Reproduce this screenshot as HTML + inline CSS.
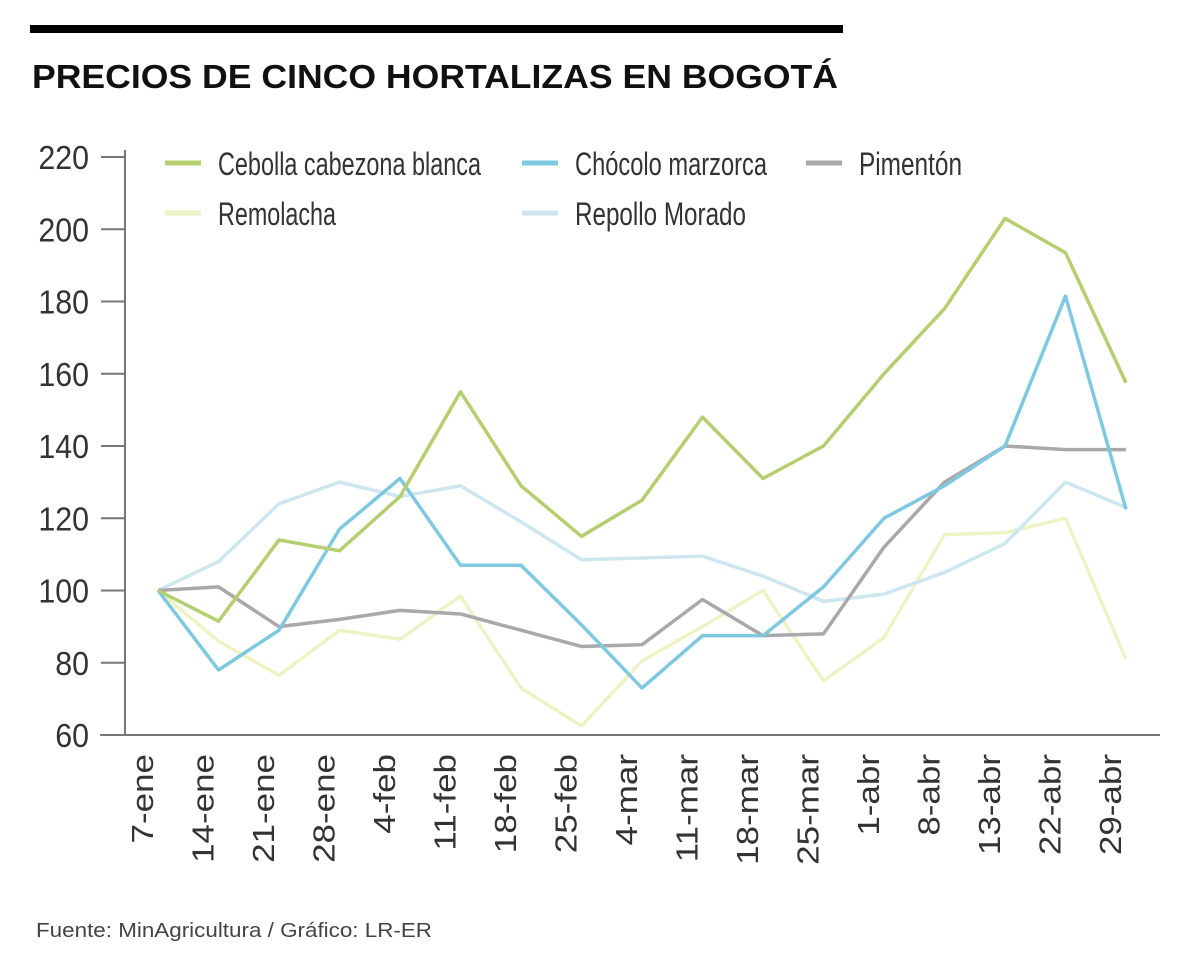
<!DOCTYPE html>
<html><head><meta charset="utf-8"><style>
body{margin:0;background:#fff;}
svg{display:block;font-family:"Liberation Sans",sans-serif;}
</style></head><body>
<svg width="1200" height="973" viewBox="0 0 1200 973">
<rect x="30" y="25" width="813" height="8" fill="#000"/>
<text x="32" y="88" font-family="Liberation Sans, sans-serif" font-weight="bold" font-size="33" fill="#111" textLength="806" lengthAdjust="spacingAndGlyphs">PRECIOS DE CINCO HORTALIZAS EN BOGOTÁ</text>
<g id="axes"></g>
<g id="series"></g>
<g id="legend"></g>
<text x="36" y="937" font-family="Liberation Sans, sans-serif" font-size="20" fill="#444" textLength="396" lengthAdjust="spacingAndGlyphs">Fuente: MinAgricultura / Gráfico: LR-ER</text>
</svg>
<script>
const categories=["7-ene","14-ene","21-ene","28-ene","4-feb","11-feb","18-feb","25-feb","4-mar","11-mar","18-mar","25-mar","1-abr","8-abr","13-abr","22-abr","29-abr"];
const cebolla=[100,91.5,114,111,126,155,129,115,125,148,131,140,160,178,203,193.5,157.5];
const chocolo=[100,78,89,117,131,107,107,90.5,73,87.5,87.5,101,120,129,140,181.5,122.5];
const pimenton=[100,101,90,92,94.5,93.5,89,84.5,85,97.5,87.5,88,112,130,140,139,139];
const remolacha=[100,86,76.5,89,86.5,98.5,73,62.5,80.5,90,100,75,87,115.5,116,120,81];
const repollo=[100,108,124,130,126,129,119,108.5,109,109.5,104,97,99,105,113,130,123];
const yTicks=[60,80,100,120,140,160,180,200,220];
const seriesNames=["Cebolla cabezona blanca","Chócolo marzorca","Pimentón","Remolacha","Repollo Morado"];
const NS="http://www.w3.org/2000/svg";
const x=i=>158+i*60.5;
const y=v=>735-(v-60)*3.6125;
function mk(t,a,p){const e=document.createElementNS(NS,t);for(const k in a)e.setAttribute(k,a[k]);p.appendChild(e);return e;}
const ax=document.getElementById('axes');
let e=mk('line',{x1:125,y1:150,x2:125,y2:735,stroke:'#777','stroke-width':2},ax);


e=mk('line',{x1:100,y1:735,x2:1160,y2:735,stroke:'#777','stroke-width':2},ax);


yTicks.forEach(t=>{
 let l=mk('line',{x1:101,y1:y(t),x2:125,y2:y(t),stroke:'#777','stroke-width':2},ax);
 
 
 let tx=mk('text',{x:0,y:0,'text-anchor':'end','font-size':33,fill:'#333',transform:`translate(89,${y(t)+12}) scale(0.92,1)`},ax);
 tx.textContent=t;
 
 
});
categories.forEach((c,i)=>{
 let tx=mk('text',{x:0,y:0,'text-anchor':'end','font-size':35,fill:'#333',transform:`translate(${x(i)-5},754) rotate(-90) scale(1,0.88)`},ax);
 tx.textContent=c;
 
 
});
const sg=document.getElementById('series');
const defs=[[remolacha,'#eef3c6','remolacha'],[repollo,'#cde6ef','repollo-morado'],[pimenton,'#a9a8aa','pimenton'],[chocolo,'#7ec9e0','chocolo-marzorca'],[cebolla,'#b5cf70','cebolla-cabezona-blanca']];
defs.forEach(([d,c,n])=>{
 let p=mk('polyline',{points:d.map((v,i)=>x(i)+','+y(v)).join(' '),fill:'none',stroke:c,'stroke-width':3.5,'stroke-linejoin':'round'},sg);
 
 
});
const lg=document.getElementById('legend');
const leg=[[165,163,'#b5cf70',0,263],[522,163,'#7ec9e0',1,192],[806,163,'#a9a8aa',2,103],[165,213,'#eef3c6',3,118],[522,213,'#cde6ef',4,171]];
leg.forEach(([lx,ly,c,k,w])=>{
 let l=mk('line',{x1:lx,y1:ly,x2:lx+36,y2:ly,stroke:c,'stroke-width':5},lg);
 
 
 let t=mk('text',{x:lx+53,y:ly+12,'font-size':32,fill:'#333',textLength:w,lengthAdjust:'spacingAndGlyphs'},lg);
 t.textContent=seriesNames[k];
 
 
});
</script>
</body></html>
